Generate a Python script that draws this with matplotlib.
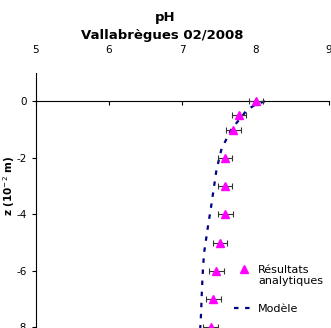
import matplotlib
matplotlib.use("Agg")
import matplotlib.pyplot as plt
from matplotlib.lines import Line2D

# measured points (pH vs depth)
z_mes = [0, -0.5, -1, -2, -3, -4, -5, -6, -7, -8]
ph_mes = [8.01, 7.78, 7.70, 7.585, 7.585, 7.59, 7.52, 7.47, 7.43, 7.39]
ph_err = [0.1, 0.1, 0.1, 0.1, 0.1, 0.1, 0.1, 0.1, 0.1, 0.1]

# model profile
z_mod = [0, -0.14, -0.32, -0.5, -0.97, -1.32, -1.68, -2.44, -3.15, -3.86,
         -4.33, -5.04, -5.39, -5.8, -6.22, -6.81, -7.52, -8.0, -9.0, -10.0]
ph_mod = [8.13, 7.99, 7.88, 7.83, 7.68, 7.61, 7.54, 7.47, 7.43, 7.39,
          7.36, 7.32, 7.30, 7.29, 7.28, 7.27, 7.26, 7.25, 7.24, 7.23]

x_ticks = [5, 6, 7, 8, 9]
y_ticks = [-8, -6, -4, -2, 0]

NAVY = "#000080"
MAGENTA = "#ff00ff"
DASH = (0, (2, 3))

W, H = 331, 328
fig = plt.figure(figsize=(W / 100, H / 100), dpi=100)

# axes placed in pixels; bottom runs past the figure edge like the original crop
left_px, right_px, top_px = 35.5, 328.5, 73.0
px_per_unit = 28.25
ymin, ymax = -10, 1
h_px = (ymax - ymin) * px_per_unit
ax = fig.add_axes([left_px / W, (H - top_px - h_px) / H,
                   (right_px - left_px) / W, h_px / H])
ax.set_xlim(5, 9)
ax.set_ylim(ymin, ymax)

ax.plot(ph_mod, z_mod, color=NAVY, lw=1.6, linestyle=DASH, zorder=2)
ax.errorbar(ph_mes, z_mes, xerr=ph_err, fmt="none", ecolor="#333333",
            elinewidth=0.8, capsize=2, capthick=0.8, zorder=3)
ax.plot(ph_mes, z_mes, linestyle="none", marker="^", color=MAGENTA,
        markersize=6, zorder=4)

# spines: x axis crosses at 0, labels on top
for s in ["top", "right"]:
    ax.spines[s].set_visible(False)
ax.spines["bottom"].set_position(("data", 0))
ax.spines["bottom"].set_linewidth(0.8)
ax.spines["left"].set_linewidth(0.8)
ax.set_xticks(x_ticks)
ax.tick_params(axis="x", direction="out", length=3, width=0.8,
               labelbottom=False)
ax.set_yticks(y_ticks)
ax.set_yticklabels([str(v) for v in y_ticks])
ax.tick_params(axis="y", direction="out", length=3, width=0.8,
               labelsize=7.5, pad=3)

sec = ax.secondary_xaxis("top")
sec.set_xticks(x_ticks)
sec.set_xticklabels([str(v) for v in x_ticks])
sec.tick_params(length=0, labelsize=7.5, pad=13)
sec.spines["top"].set_visible(False)

fig.text(0.5, 1 - 17 / H, "pH", ha="center", va="center",
         fontsize=9.5, fontweight="bold")
fig.text(0.49, 1 - 36 / H, "Vallabrègues 02/2008", ha="center", va="center",
         fontsize=9.5, fontweight="bold")
fig.text(9 / W, 1 - 186 / H, "z (10$^{-2}$ m)", rotation=90, ha="center",
         va="center", fontsize=7.5, fontweight="bold")

# legend: two blocks so the marker sits on the first text line
leg1 = fig.legend(
    [Line2D([], [], linestyle="none", marker="^", color=MAGENTA, markersize=6),
     Line2D([], [], linestyle="none")],
    ["Résultats", "analytiques"], frameon=False, loc="upper left",
    bbox_to_anchor=(228 / W, 1 - 259 / H), fontsize=8, handlelength=1.9,
    handletextpad=0.3, labelspacing=0.1, borderpad=0)
leg2 = fig.legend(
    [Line2D([], [], color=NAVY, lw=1.6, linestyle=DASH)],
    ["Modèle"], frameon=False, loc="upper left",
    bbox_to_anchor=(228 / W, 1 - 298 / H), fontsize=8, handlelength=1.9,
    handletextpad=0.3, borderpad=0)

fig.savefig("out.png", dpi=100)
